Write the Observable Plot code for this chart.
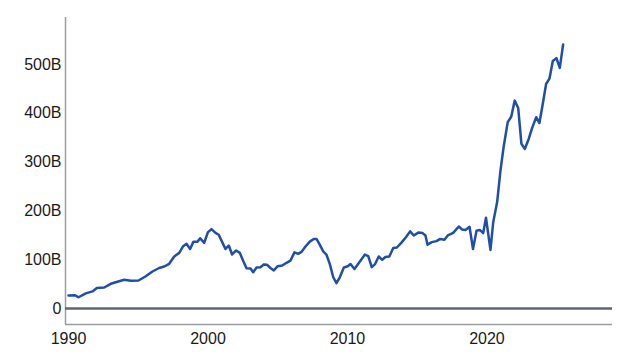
<!DOCTYPE html>
<html>
<head>
<meta charset="utf-8">
<script src="https://cdn.jsdelivr.net/npm/d3@7"></script>
<script src="https://cdn.jsdelivr.net/npm/@observablehq/plot@0.6"></script>
<style>
  html, body { margin: 0; padding: 0; background: #fff; }
  #chart svg { display: block; }
</style>
</head>
<body>
<div id="chart"></div>
<script>
// Time (decimal year) and value (billions)
const years = [
  1990.00, 1990.48, 1990.72, 1991.24, 1991.72, 1992.03, 1992.56, 1993.03, 1993.51, 1993.99,
  1994.47, 1995.02, 1995.54, 1996.02, 1996.50, 1996.86, 1997.22, 1997.58, 1997.94, 1998.22,
  1998.46, 1998.72, 1998.96, 1999.25, 1999.44, 1999.73, 1999.99, 2000.25, 2000.54, 2000.77,
  2001.02, 2001.25, 2001.49, 2001.73, 2002.02, 2002.28, 2002.52, 2002.76, 2003.05, 2003.24,
  2003.48, 2003.76, 2004.00, 2004.24, 2004.48, 2004.72, 2005.00, 2005.32, 2005.63, 2005.91,
  2006.20, 2006.47, 2006.70, 2006.99, 2007.30, 2007.58, 2007.78, 2008.01, 2008.26, 2008.49,
  2008.73, 2008.98, 2009.21, 2009.45, 2009.74, 2010.02, 2010.22, 2010.50, 2010.88, 2011.25,
  2011.49, 2011.74, 2011.98, 2012.24, 2012.49, 2012.72, 2013.00, 2013.28, 2013.54, 2013.87,
  2014.19, 2014.49, 2014.75, 2015.08, 2015.39, 2015.59, 2015.74, 2016.04, 2016.38, 2016.65,
  2016.95, 2017.19, 2017.58, 2017.98, 2018.22, 2018.46, 2018.75, 2019.00, 2019.25, 2019.48,
  2019.73, 2019.93, 2020.25, 2020.45, 2020.73, 2020.97, 2021.20, 2021.49, 2021.74, 2021.99,
  2022.24, 2022.47, 2022.71, 2023.00, 2023.24, 2023.53, 2023.76, 2024.00, 2024.24, 2024.48,
  2024.72, 2024.98, 2025.22, 2025.46
];
const values = [
  26.6, 27, 23, 31, 35, 42, 43, 50.6, 54.7, 58.8,
  56.7, 57.4, 66, 75.8, 83, 86, 91.6, 106.6, 114, 127.7,
  132.5, 122, 137, 137, 144, 134.6, 156, 162.6, 155, 151,
  136, 122, 129, 110.7, 119, 114, 98, 82.6, 82, 74.4,
  84, 84.7, 90, 89.5, 83, 78, 86.7, 88, 93.6, 98,
  115, 112, 116, 127, 137, 142.6, 142.6, 131, 117, 110.6,
  91.5, 64, 52, 64, 84, 86.5, 91, 81, 96, 110.6,
  107.5, 84.7, 91, 106.6, 99.8, 105.5, 106.6, 124, 125, 135,
  146, 158, 149.6, 155.5, 154.5, 149.6, 130.8, 136, 138, 142.6,
  140.8, 149.6, 155, 168, 162, 161, 167.5, 122, 159.5, 161,
  154.5, 186, 120, 177, 218, 283, 332, 382, 393, 426,
  411, 337.5, 327, 348, 370, 392, 380, 419, 460, 471,
  507, 513, 493, 541
];
const yTicks = [0, 100, 200, 300, 400, 500];
const xTicks = [1990, 2000, 2010, 2020];
const xDomain = [1989.785, 2029];
const yDomain = [-32.8, 596.3];

const data = years.map((t, i) => ({t, v: values[i]}));

const chart = Plot.plot({
  width: 629,
  height: 364,
  marginLeft: 65,
  marginRight: 17,
  marginTop: 17,
  marginBottom: 40,
  style: {fontFamily: "'Liberation Sans', Arial, Helvetica, sans-serif", fontSize: "16px", color: "#1a1a1a", background: "#fff"},
  x: {domain: xDomain, ticks: xTicks, tickFormat: d => String(d), tickSize: 0, tickPadding: 8, label: null},
  y: {domain: yDomain, ticks: yTicks, tickFormat: d => d === 0 ? "0" : d + "B", tickSize: 0, tickPadding: 4, label: null},
  marks: [
    Plot.ruleX([xDomain[0]], {stroke: "#9a9da3", strokeWidth: 1.5}),
    Plot.ruleY([yDomain[0]], {stroke: "#9a9da3", strokeWidth: 1.5}),
    Plot.ruleY([0], {stroke: "#5f6670", strokeWidth: 2.5}),
    Plot.line(data, {x: "t", y: "v", stroke: "#1f4fa8", strokeWidth: 2.5, strokeLinejoin: "round"})
  ]
});
document.getElementById("chart").appendChild(chart);
</script>
</body>
</html>
